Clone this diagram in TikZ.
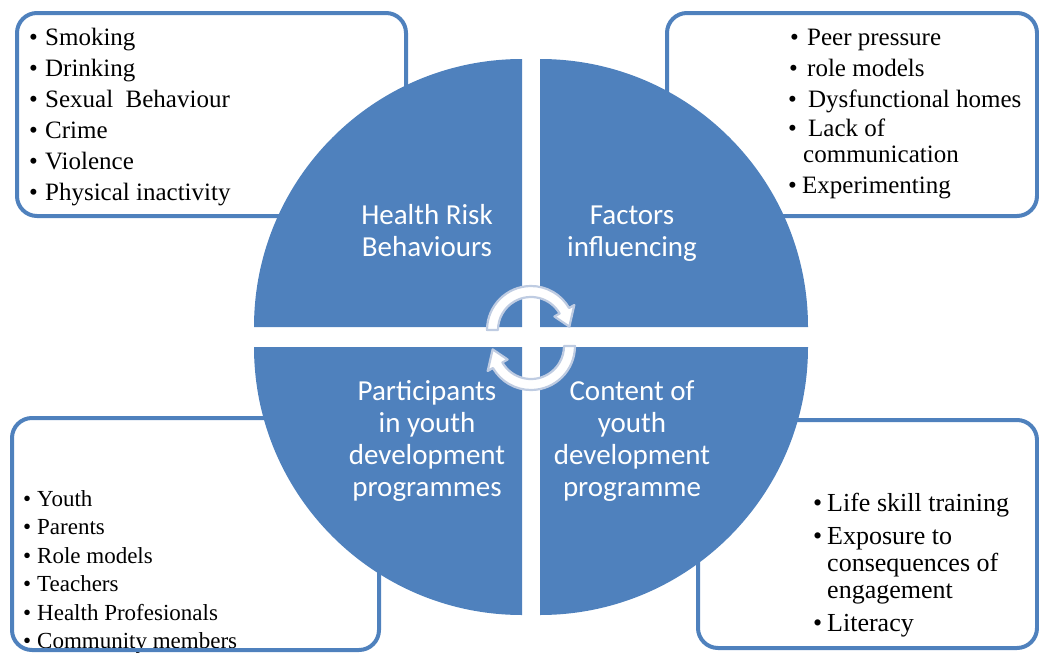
\documentclass[tikz,border=0pt]{standalone}
\usepackage{fontspec}
\usetikzlibrary{calc}
\setmainfont{Liberation Serif}
\newfontfamily\calibri{Carlito}
\definecolor{ob}{HTML}{4F81BD}
\definecolor{arrline}{HTML}{BFCCE2}
\newcommand\bulw[1]{\makebox[#1pt][l]{•}}
\begin{document}
\begin{tikzpicture}[x=1pt,y=-1pt,
  listbox/.style={draw=ob, line width=4pt, rounded corners=20pt},
  quad/.style={fill=ob, draw=none},
  cyc/.style={fill=white, draw=arrline, line width=2.2pt, line join=round},
  item/.style={anchor=base west, inner sep=0pt, font=\fontsize{25}{29}\selectfont},
  itemS/.style={anchor=base west, inner sep=0pt, font=\fontsize{23}{28}\selectfont},
  itemL/.style={anchor=base west, inner sep=0pt, font=\fontsize{26}{30}\selectfont},
  pietext/.style={anchor=base, inner sep=0pt, text=white, font=\calibri\fontsize{29}{32}\selectfont}]
\useasboundingbox (0,0) rectangle (1039,653);

% ---- top-left list
\node[item] (tl1) at (29,45)  {\bulw{16}Smoking};
\node[item] (tl2) at (29,76)  {\bulw{16}Drinking};
\node[item] (tl3) at (29,107) {\bulw{16}Sexual\ \ Behaviour};
\node[item] (tl4) at (29,138) {\bulw{16}Crime};
\node[item] (tl5) at (29,169) {\bulw{16}Violence};
\node[item] (tl6) at (29,200) {\bulw{16}Physical inactivity};

% ---- top-right list
\node[item] (tr1) at (790,45)  {\bulw{17}Peer pressure};
\node[item] (tr2) at (789,76)  {\bulw{18}role models};
\node[item] (tr3) at (788,107) {\bulw{20}Dysfunctional homes};
\node[item] (tr4) at (788,136) {\bulw{20}Lack of};
\node[item] (tr5) at (803,162) {communication};
\node[item] (tr6) at (788,193) {\bulw{14}Experimenting};

% ---- bottom-left list
\node[itemS] (bl1) at (23,506) {\bulw{14}Youth};
\node[itemS] (bl2) at (23,534) {\bulw{14}Parents};
\node[itemS] (bl3) at (23,563) {\bulw{14}Role models};
\node[itemS] (bl4) at (23,591) {\bulw{14}Teachers};
\node[itemS] (bl5) at (23,620) {\bulw{14}Health Profesionals};
\node[itemS] (bl6) at (23,648) {\bulw{14}Community members};

% ---- bottom-right list
\node[itemL] (br1) at (813,511) {\bulw{14}Life skill training};
\node[itemL] (br2) at (813,544) {\bulw{14}Exposure to};
\node[itemL] (br3) at (827,571) {consequences of};
\node[itemL] (br4) at (827,598) {engagement};
\node[itemL] (br5) at (813,631) {\bulw{14}Literacy};

% ---- boxes
\draw[listbox] (17,13) rectangle (406,216);
\draw[listbox] (667,13) rectangle (1037,216);
\draw[listbox] (12,418) rectangle (379,650);
\draw[listbox] (698,420) rectangle (1037,648);

% ---- pie quadrants
\fill[quad] (522,327) -- (254,327) arc[start angle=180, end angle=270, radius=268] -- cycle;
\fill[quad] (540,327) -- (540,59) arc[start angle=270, end angle=360, radius=268] -- cycle;
\fill[quad] (540,347) -- (808,347) arc[start angle=0, end angle=90, radius=268] -- cycle;
\fill[quad] (522,347) -- (522,615) arc[start angle=90, end angle=180, radius=268] -- cycle;

% ---- pie texts
\node[pietext] (hr1) at (427,224) {Health Risk};
\node[pietext] (hr2) at (427,256) {Behaviours};
\node[pietext] (fi1) at (632,224) {Factors};
\node[pietext] (fi2) at (632,256) {influencing};
\node[pietext] (pa1) at (427,400) {Participants};
\node[pietext] (pa2) at (427,432) {in youth};
\node[pietext] (pa3) at (427,464) {development};
\node[pietext] (pa4) at (427,496) {programmes};
\node[pietext] (co1) at (632,400) {Content of};
\node[pietext] (co2) at (632,432) {youth};
\node[pietext] (co3) at (632,464) {development};
\node[pietext] (co4) at (632,496) {programme};

% ---- circular arrows
\coordinate (c1) at (531,330);
\coordinate (c2) at (531,346);
\draw[cyc] ($(c1)+(180:44)$) arc[start angle=180, end angle=330, radius=44]
  -- ($(c1)+(330:50)$) -- ($(c1)+(355:38.5)$) -- ($(c1)+(330:27)$)
  -- ($(c1)+(330:33)$) arc[start angle=330, end angle=180, radius=33] -- cycle;
\draw[cyc] ($(c2)+(0:44)$) arc[start angle=0, end angle=150, radius=44]
  -- ($(c2)+(150:50)$) -- ($(c2)+(175:38.5)$) -- ($(c2)+(150:27)$)
  -- ($(c2)+(150:33)$) arc[start angle=150, end angle=0, radius=33] -- cycle;
\end{tikzpicture}
\end{document}
